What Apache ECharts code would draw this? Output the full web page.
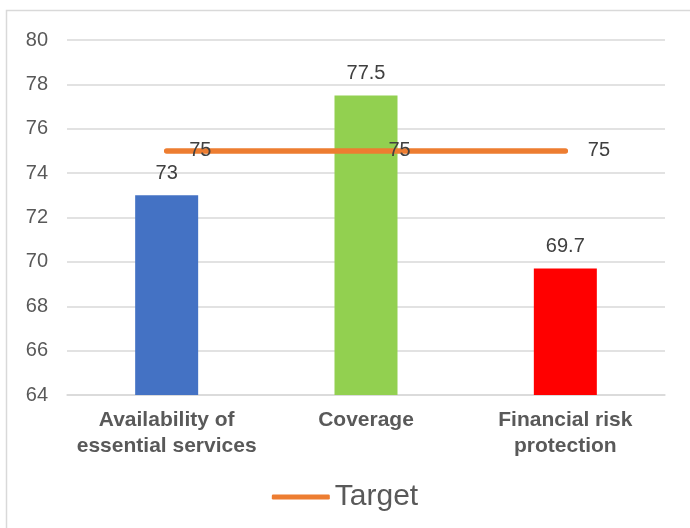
<!DOCTYPE html>
<html><head><meta charset="utf-8">
<script src="https://cdn.jsdelivr.net/npm/echarts@6/dist/echarts.min.js"></script>
<style>html,body{margin:0;padding:0;background:#fff}#c{width:690px;height:528px}</style>
</head><body><div id="c"></div>
<script>
var categories = ['Availability of\nessential services', 'Coverage', 'Financial risk\nprotection'];
var values = [73, 77.5, 69.7];
var barColors = ['#4472C4', '#92D050', '#FF0000'];
var target = [75, 75, 75];
var yMin = 64, yMax = 80, yStep = 2;

var FONT = 'Liberation Sans, Arial, sans-serif';
var chart = echarts.init(document.getElementById('c'));
chart.setOption({
  animation: false,
  textStyle: { fontFamily: FONT },
  graphic: [{ type: 'rect', shape: { x: 6.5, y: 10.5, width: 700, height: 540 }, style: { fill: 'none', stroke: '#D9D9D9', lineWidth: 1.5 }, silent: true }],
  grid: { left: 67, right: 25, top: 40, bottom: 133 },
  legend: {
    data: ['Target'], bottom: 11, left: 'center', itemWidth: 58, itemHeight: 5, itemGap: 4,
    icon: 'roundRect',
    textStyle: { fontSize: 30, color: '#595959', fontFamily: FONT }
  },
  xAxis: {
    type: 'category', data: categories,
    axisLine: { lineStyle: { color: '#D9D9D9', width: 1.5 } },
    axisTick: { show: false },
    axisLabel: { color: '#595959', fontSize: 21, fontWeight: 'bold', lineHeight: 26, margin: 12, interval: 0 }
  },
  yAxis: {
    type: 'value', min: yMin, max: yMax, interval: yStep,
    axisLine: { show: false }, axisTick: { show: false },
    splitLine: { lineStyle: { color: '#D9D9D9', width: 1.5 } },
    axisLabel: { color: '#595959', fontSize: 20, margin: 19 }
  },
  series: [
    {
      name: 'Value', type: 'bar', barWidth: 63,
      data: values.map(function (v, i) { return { value: v, itemStyle: { color: barColors[i] } }; }),
      label: { show: true, position: 'top', distance: 12, color: '#404040', fontSize: 20 }
    },
    {
      name: 'Target', type: 'line', data: target, z: 5,
      symbol: 'circle', symbolSize: 1, showSymbol: true,
      lineStyle: { color: '#ED7D31', width: 5.5, cap: 'round' },
      itemStyle: { color: '#ED7D31' },
      label: { show: true, position: 'right', distance: 22, offset: [0, 2], color: '#404040', fontSize: 20 },
      labelLayout: { hideOverlap: false }
    }
  ]
});
</script></body></html>
